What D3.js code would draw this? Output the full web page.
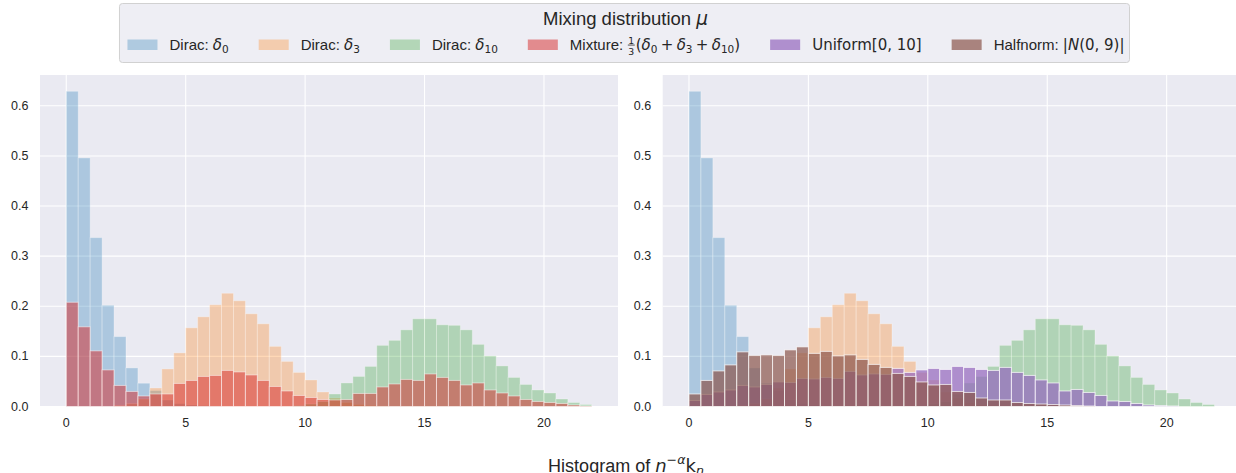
<!DOCTYPE html>
<html>
<head>
<meta charset="utf-8">
<script src="https://cdn.jsdelivr.net/npm/d3@7"></script>
<style>
  body { margin: 0; background: #fff; }
  text { font-family: "Liberation Sans", Arial, sans-serif; fill: #262626; white-space: pre; }
  .mi { font-family: "DejaVu Sans"; font-style: italic; }
  .mr { font-family: "DejaVu Sans"; font-style: normal; }
</style>
</head>
<body>
<svg id="chart"></svg>
<script>
// histogram bins: 0 .. 22 in steps of 0.5 (44 bins)
const binWidth = 0.5;

// bar heights (density), one value per bin
const dirac0 = [0.629, 0.496, 0.337, 0.202, 0.1395, 0.077, 0.0465, 0.032, 0.013, 0.006, 0.003, 0.002, 0.001,
  0, 0, 0, 0, 0, 0, 0, 0, 0, 0, 0, 0, 0, 0, 0, 0, 0, 0, 0, 0, 0, 0, 0, 0, 0, 0, 0, 0, 0, 0, 0];
const dirac3 = [0, 0, 0, 0, 0.002, 0.006, 0.015, 0.037, 0.075, 0.107, 0.157, 0.179, 0.203, 0.226, 0.211, 0.185,
  0.165, 0.120, 0.090, 0.068, 0.053, 0.029, 0.017, 0.008, 0.004, 0.002, 0.001, 0, 0, 0, 0, 0, 0, 0, 0, 0, 0, 0, 0, 0, 0, 0, 0, 0];
const dirac10 = [0, 0, 0, 0, 0, 0, 0, 0, 0, 0, 0, 0, 0, 0, 0, 0, 0, 0, 0, 0.002, 0.005, 0.010, 0.025, 0.047,
  0.060, 0.080, 0.122, 0.132, 0.153, 0.175, 0.175, 0.163, 0.162, 0.153, 0.124, 0.101, 0.081, 0.058, 0.044, 0.033,
  0.027, 0.015, 0.008, 0.004];
const mixture = [0.208, 0.159, 0.111, 0.073, 0.042, 0.030, 0.021, 0.025, 0.025, 0.046, 0.052, 0.060, 0.062, 0.072,
  0.069, 0.063, 0.052, 0.040, 0.031, 0.022, 0.018, 0.014, 0.013, 0.014, 0.026, 0.026, 0.039, 0.045, 0.054, 0.052,
  0.065, 0.058, 0.052, 0.043, 0.047, 0.033, 0.027, 0.021, 0.014, 0.010, 0.008, 0.006, 0.003, 0.001];
const uniform = [0.012, 0.024, 0.029, 0.033, 0.042, 0.039, 0.044, 0.049, 0.048, 0.056, 0.055, 0.058, 0.056, 0.070,
  0.063, 0.065, 0.064, 0.076, 0.068, 0.073, 0.076, 0.074, 0.080, 0.078, 0.074, 0.072, 0.078, 0.068, 0.062, 0.053,
  0.047, 0.031, 0.034, 0.028, 0.022, 0.011, 0.010, 0.006, 0.003, 0.002, 0.001, 0, 0, 0];
const halfnorm = [0.025, 0.052, 0.071, 0.083, 0.109, 0.102, 0.103, 0.102, 0.113, 0.119, 0.106, 0.110, 0.101, 0.103,
  0.094, 0.084, 0.078, 0.066, 0.060, 0.049, 0.043, 0.044, 0.030, 0.028, 0.017, 0.013, 0.013, 0.008, 0.006, 0.005,
  0.004, 0.003, 0.002, 0.001, 0, 0, 0, 0, 0, 0, 0, 0, 0, 0];

const xTicks = [0, 5, 10, 15, 20];
const yTicks = [0.0, 0.1, 0.2, 0.3, 0.4, 0.5, 0.6];

// legend labels as [text, kind] pieces (kind: r=regular, mi=math italic, mr=math roman, sub, op, frac ...)
const series = {
  d0:   { values: dirac0,  color: '#1f77b4', alpha: 0.3, label: [['Dirac: ', 'r'], ['δ', 'mi'], ['0', 'sub']] },
  d3:   { values: dirac3,  color: '#ff7f0e', alpha: 0.3, label: [['Dirac: ', 'r'], ['δ', 'mi'], ['3', 'sub']] },
  d10:  { values: dirac10, color: '#2ca02c', alpha: 0.3, label: [['Dirac: ', 'r'], ['δ', 'mi'], ['10', 'sub']] },
  mix:  { values: mixture, color: '#d62728', alpha: 0.5, label: [['Mixture: ', 'r'], [['1', '3'], 'frac'], ['(', 'mr'],
          ['δ', 'mi'], ['0', 'sub'], ['+', 'op'], ['δ', 'mi'], ['3', 'sub'], ['+', 'op'], ['δ', 'mi'], ['10', 'sub'], [')', 'mr']] },
  unif: { values: uniform,  color: '#9467bd', alpha: 0.7, label: [['Uniform[0, 10]', 'mr']] },
  half: { values: halfnorm, color: '#8c564b', alpha: 0.7, label: [['Halfnorm: ', 'r'], ['|', 'mr'], ['N', 'mi'], ['(0, 9)|', 'mr']] }
};
const legendOrder = ['d0', 'd3', 'd10', 'mix', 'unif', 'half'];

const svg = d3.select('#chart').attr('width', 1236).attr('height', 473);

// writes mathtext-like label pieces as tspans, returns the width
function richText(g, parts, size) {
  const t = g.append('text').attr('font-size', size);
  let cx = 0;
  parts.forEach(([str, kind]) => {
    if (kind === 'frac') {
      const fs = size * 0.62;
      const a = t.append('tspan').attr('class', 'mr').attr('font-size', fs).attr('x', cx + 1).attr('y', -size * 0.42).text(str[0]);
      const b = t.append('tspan').attr('class', 'mr').attr('font-size', fs).attr('x', cx + 1).attr('y', size * 0.3).text(str[1]);
      const w = Math.max(a.node().getComputedTextLength(), b.node().getComputedTextLength());
      g.append('line').attr('x1', cx + 0.5).attr('x2', cx + w + 1.5)
        .attr('y1', -size * 0.33).attr('y2', -size * 0.33)
        .attr('stroke', '#262626').attr('stroke-width', 0.8);
      cx += w + 2.5;
      return;
    }
    let fs = size, dy = 0, cls = kind, pad = 0;
    if (kind === 'sub') { fs = size * 0.7; dy = size * 0.2; cls = 'mr'; }
    if (kind === 'isub') { fs = size * 0.7; dy = size * 0.2; cls = 'mi'; }
    if (kind === 'sup') { fs = size * 0.7; dy = -size * 0.42; cls = 'mr'; }
    if (kind === 'isup') { fs = size * 0.7; dy = -size * 0.42; cls = 'mi'; }
    if (kind === 'op') { cls = 'mr'; pad = size * 0.22; }
    const s = t.append('tspan').attr('x', cx + pad).attr('y', dy).attr('font-size', fs).text(str);
    if (cls !== 'r') s.attr('class', cls);
    cx += s.node().getComputedTextLength() + 2 * pad;
  });
  return cx;
}

class HistPanel {
  constructor(_config, _keys) {
    this.config = {
      left: _config.left,
      top: 75,
      width: 578,
      height: 331.5
    };
    this.keys = _keys;
    this.initVis();
  }

  initVis() {
    let vis = this;
    const c = vis.config;

    vis.xScale = d3.scaleLinear().domain([-1.1, 23.1]).range([0, c.width]);
    vis.yScale = d3.scaleLinear().domain([0, 0.6615]).range([c.height, 0]);

    vis.g = svg.append('g').attr('transform', `translate(${c.left},${c.top})`);

    vis.g.append('rect')
      .attr('width', c.width).attr('height', c.height)
      .attr('fill', '#eaeaf2');

    // grid below the bars
    vis.g.selectAll('.vgrid').data(xTicks).join('line')
      .attr('class', 'vgrid')
      .attr('x1', d => vis.xScale(d)).attr('x2', d => vis.xScale(d))
      .attr('y1', 0).attr('y2', c.height)
      .attr('stroke', '#fff').attr('stroke-width', 1.1);
    vis.g.selectAll('.hgrid').data(yTicks).join('line')
      .attr('class', 'hgrid')
      .attr('x1', 0).attr('x2', c.width)
      .attr('y1', d => vis.yScale(d)).attr('y2', d => vis.yScale(d))
      .attr('stroke', '#fff').attr('stroke-width', 1.1);

    vis.renderVis();

    // tick labels (no tick marks in this style)
    vis.g.selectAll('.xlab').data(xTicks).join('text')
      .attr('class', 'xlab')
      .attr('x', d => vis.xScale(d)).attr('y', c.height + 16)
      .attr('text-anchor', 'middle').attr('dominant-baseline', 'central')
      .attr('font-size', 12.5)
      .text(d => d);
    vis.g.selectAll('.ylab').data(yTicks).join('text')
      .attr('class', 'ylab')
      .attr('x', -11.5).attr('y', d => vis.yScale(d))
      .attr('text-anchor', 'end').attr('dominant-baseline', 'central')
      .attr('font-size', 12.5)
      .text(d => d3.format('.1f')(d));
  }

  renderVis() {
    let vis = this;
    vis.keys.forEach(k => {
      const s = series[k];
      const bins = s.values.map((v, i) => ({ x0: i * binWidth, x1: (i + 1) * binWidth, v: v }))
        .filter(d => d.v > 0);
      vis.g.append('g').selectAll('rect').data(bins).join('rect')
        .attr('x', d => vis.xScale(d.x0))
        .attr('width', d => vis.xScale(d.x1) - vis.xScale(d.x0))
        .attr('y', d => vis.yScale(d.v))
        .attr('height', d => vis.yScale(0) - vis.yScale(d.v))
        .attr('fill', s.color).attr('fill-opacity', s.alpha)
        .attr('stroke', '#fff').attr('stroke-opacity', s.alpha).attr('stroke-width', 1);
    });
  }
}

new HistPanel({ left: 40 }, ['d0', 'd3', 'd10', 'mix']);
new HistPanel({ left: 662.7 }, ['d0', 'd3', 'd10', 'unif', 'half']);

// legend
const legend = svg.append('g');
const legendBox = legend.append('rect');
const entries = legend.append('g');
let lx = 0;
legendOrder.forEach((k, i) => {
  const s = series[k];
  const eg = entries.append('g').attr('transform', `translate(${lx},0)`);
  eg.append('rect').attr('x', 0).attr('y', -10.5).attr('width', 30).attr('height', 10.5)
    .attr('fill', s.color).attr('fill-opacity', s.alpha);
  const tg = eg.append('g').attr('transform', 'translate(42,0)');
  const w = richText(tg, s.label, 15);
  lx += 42 + w + (i < legendOrder.length - 1 ? 30 : 0);
});
const legendCx = 626;
const ex0 = legendCx - lx / 2;
entries.attr('transform', `translate(${ex0},50)`);
legendBox.attr('x', ex0 - 8).attr('y', 3.5).attr('width', lx + 13).attr('height', 59)
  .attr('rx', 3).attr('fill', '#eeeef4').attr('stroke', '#d1d1d1').attr('stroke-width', 1);

const tg = legend.append('g');
const tw = richText(tg, [['Mixing distribution ', 'r'], ['μ', 'mi']], 18.5);
tg.attr('transform', `translate(${625.5 - tw / 2},25)`);

// x label under both panels
const xl = svg.append('g');
const xw = richText(xl, [['Histogram of ', 'r'], ['n', 'mi'], ['−', 'sup'], ['α', 'isup'], ['k', 'mr'], ['n', 'isub']], 18);
xl.attr('transform', `translate(${626 - xw / 2},471.5)`);
</script>
</body>
</html>
